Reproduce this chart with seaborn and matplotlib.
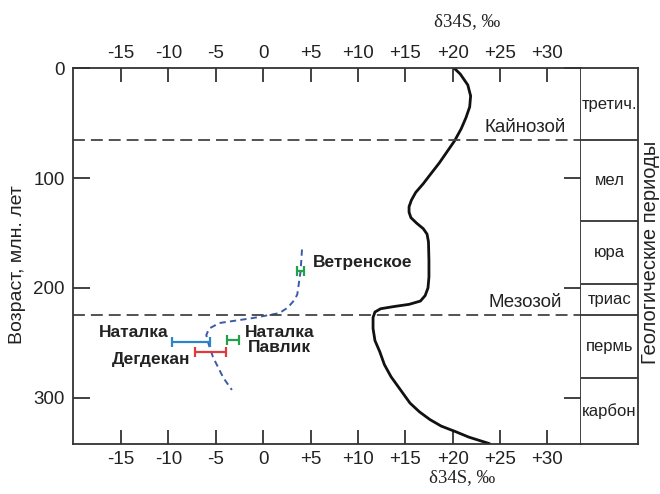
import matplotlib
matplotlib.use("Agg")
import matplotlib.pyplot as plt
import seaborn as sns
import pandas as pd

# Global sulfur isotope curve of seawater sulfate: age (Ma) vs δ34S (‰)
curve_age = [0, 5, 10, 15, 25, 35, 45, 55, 66, 76, 86, 96, 105, 113, 120, 126, 131,
             136, 141, 146, 151, 158, 175, 190, 200, 207, 212, 215, 217, 219, 222,
             227, 237, 248, 258, 270, 281, 293, 305, 313, 320, 326, 331, 336, 342]
curve_d34s = [20.2, 20.8, 21.2, 21.6, 21.9, 21.8, 21.4, 20.9, 20.2, 19.4, 18.6, 17.7,
              16.9, 16.1, 15.65, 15.4, 15.4, 15.6, 16.2, 16.9, 17.3, 17.45, 17.5, 17.5,
              17.4, 17.1, 16.6, 15.4, 13.8, 12.4, 11.8, 11.6, 11.6, 11.8, 12.3, 12.8,
              13.5, 14.5, 15.5, 16.5, 17.6, 18.8, 20.3, 21.7, 23.9]

# Trend of ore sulfur composition
trend_age = [165, 185, 200, 206, 211, 218, 223, 227.5, 232, 237, 243, 250, 263, 282, 293]
trend_d34s = [4.1, 3.95, 3.7, 3.6, 3.3, 2.6, 1.7, -1.1, -4.6, -5.7, -6.0, -5.8, -5.3, -4.2, -3.3]

# Deposits: age and δ34S range
deposit_names = ["Ветренское", "Наталка", "Наталка\nПавлик", "Дегдекан"]
deposit_age = [185, 249, 247.5, 258.7]
deposit_lo = [3.6, -9.6, -3.8, -7.2]
deposit_hi = [4.3, -5.6, -2.6, -3.9]
deposit_colors = ["#22a04a", "#2a86c8", "#22a04a", "#e23a3a"]

# Era boundaries
era_names = ["Кайнозой", "Мезозой"]
era_age = [65, 225]

# Geological periods column
period_names = ["третич.", "мел", "юра", "триас", "пермь", "карбон"]
period_bounds = [0, 65, 139, 196, 225, 282, 342.3]

x_ticks = [-15, -10, -5, 0, 5, 10, 15, 20, 25, 30]
x_ticklabels = ["-15", "-10", "-5", "0", "+5", "+10", "+15", "+20", "+25", "+30"]
y_ticks = [0, 100, 200, 300]

sns.set_style("white")
plt.rcParams["font.family"] = ["Liberation Sans", "DejaVu Sans"]

W, H = 660, 494
fig = plt.figure(figsize=(W / 100, H / 100), dpi=100)


def box(l, t, r, b):
    return [l / W, 1 - b / H, (r - l) / W, (b - t) / H]


frame_col = "#333333"
ax = fig.add_axes(box(73.3, 68.5, 581, 444))
col = fig.add_axes(box(581, 68.5, 638, 444))

curve = pd.DataFrame({"age": curve_age, "d34s": curve_d34s})
trend = pd.DataFrame({"age": trend_age, "d34s": trend_d34s})

sns.lineplot(data=curve, x="d34s", y="age", orient="y", estimator=None, ax=ax,
             color="#111111", lw=2.0)
sns.lineplot(data=trend, x="d34s", y="age", orient="y", estimator=None, ax=ax,
             color="#3b5aa8", lw=1.4, linestyle=(0, (3.2, 2.2)))

for a in era_age:
    ax.axhline(a, color="#444444", lw=1.3, ls=(0, (6.6, 3.3)))

for name, a, lo, hi, c in zip(deposit_names, deposit_age, deposit_lo, deposit_hi, deposit_colors):
    mid = (lo + hi) / 2
    ax.errorbar([mid], [a], xerr=[[mid - lo], [hi - mid]], fmt="none", ecolor=c,
                elinewidth=1.6, capsize=3.5, capthick=1.6)

lab = dict(fontsize=12.5, fontweight="bold", color="#222222", va="center")
ax.text(5.24, 177.3, deposit_names[0], ha="left", **lab)
ax.text(-10.0, 240.5, deposit_names[1], ha="right", **lab)
ax.text(1.76, 247.5, deposit_names[2], ha="center", multialignment="center",
        linespacing=0.95, **lab)
ax.text(-7.73, 265.7, deposit_names[3], ha="right", **lab)

ax.text(31.9, 54.2, era_names[0], ha="right", va="center", fontsize=13.5, color="#222222")
ax.text(31.5, 212.9, era_names[1], ha="right", va="center", fontsize=13.5, color="#222222")

ax.set_xlim(-20.04, 33.55)
ax.set_ylim(342.3, 0)
ax.set_xticks(x_ticks)
ax.set_xticklabels(x_ticklabels)
ax.set_yticks(y_ticks)
ax.set_yticklabels([str(t) for t in y_ticks])
ax.set_xlabel("")
ax.set_ylabel("")
ax.tick_params(axis="x", direction="in", length=10, width=1.3,
               color=frame_col, top=True, bottom=True, labeltop=True,
               labelbottom=True, labelsize=13.5, labelcolor="#222222", pad=5)
ax.tick_params(axis="y", direction="in", length=12, width=1.3, color=frame_col,
               left=True, right=True, labelleft=True, labelright=False,
               labelsize=13.5, labelcolor="#222222", pad=6)
for s in ax.spines.values():
    s.set_color(frame_col)
    s.set_linewidth(1.3)

# periods column
col.set_xlim(0, 1)
col.set_ylim(342.3, 0)
col.set_xticks([])
col.set_yticks([])
for s in col.spines.values():
    s.set_color(frame_col)
    s.set_linewidth(1.3)
col.spines["left"].set_visible(False)
for b in period_bounds[1:-1]:
    col.axhline(b, color=frame_col, lw=1.3)
for name, a0, a1 in zip(period_names, period_bounds[:-1], period_bounds[1:]):
    col.text(0.5, (a0 + a1) / 2, name, ha="center", va="center", fontsize=12,
             color="#222222")

serif = ["Liberation Serif", "DejaVu Serif"]
fig.text(467 / W, 1 - 22 / H, "δ34S, ‰", ha="center", va="center",
         fontsize=13.5, family=serif, color="#222222")
fig.text(462 / W, 1 - 478 / H, "δ34S, ‰", ha="center", va="center",
         fontsize=13.5, family=serif, color="#222222")
fig.text(18 / W, 1 - 265 / H, "Возраст, млн. лет", rotation=90, ha="center",
         va="center", fontsize=14, color="#222222")
fig.text(650 / W, 1 - 252 / H, "Геологические периоды", rotation=90, ha="center",
         va="center", fontsize=14.5, color="#222222")

fig.savefig("out.png", dpi=100)
